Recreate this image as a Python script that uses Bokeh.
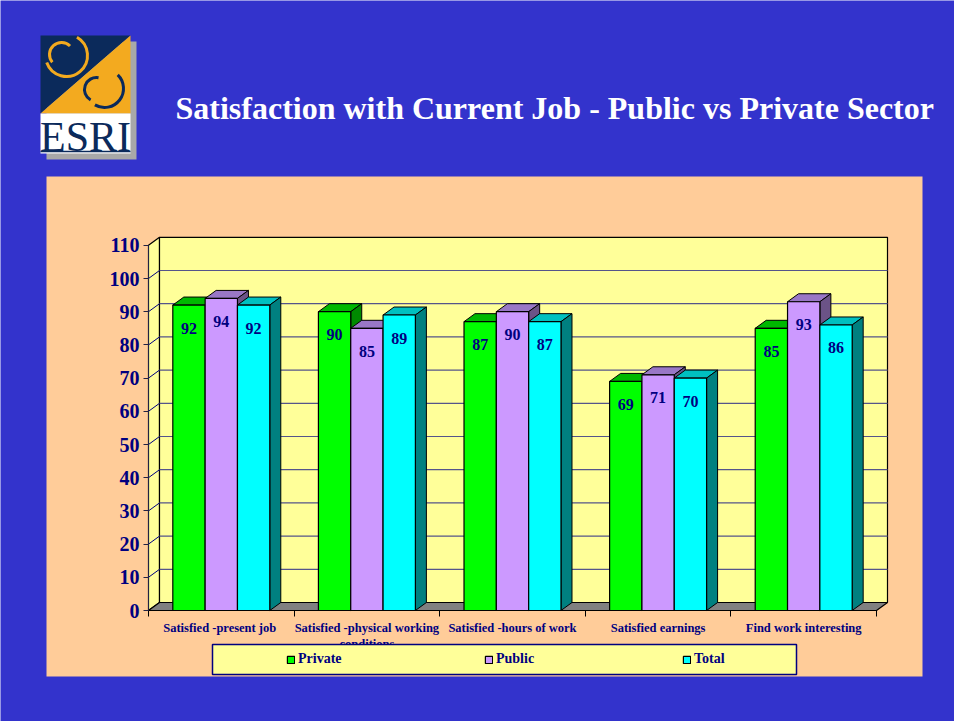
from bokeh.plotting import figure
from bokeh.models import Range1d, LinearAxis, FixedTicker, Legend, LegendItem, ColumnDataSource
from bokeh.core.properties import value
from bokeh.embed import file_html
from bokeh.resources import INLINE

# ---------------- data ----------------
categories = [
    "Satisfied  -present job",
    "Satisfied -physical working\nconditions",
    "Satisfied -hours of work",
    "Satisfied earnings",
    "Find work interesting",
]
series_names = ["Private", "Public", "Total"]
private = [92, 90, 87, 69, 85]
public = [94, 85, 90, 71, 93]
total = [92, 89, 87, 70, 86]
y_ticks = [0, 10, 20, 30, 40, 50, 60, 70, 80, 90, 100, 110]
title_text = "Satisfaction with Current Job  - Public vs Private Sector"
logo_text = "ESRI"

# ---------------- styles / geometry ----------------
W, H = 954, 721
X0_PX, Y0_PX = 148.0, 610.0          # canvas position of the chart origin
PX_PER_CAT, PX_PER_VAL = 145.6, 3.32
DEPTH_X_PX, DEPTH_Y_PX = 11.0, 8.0
BAR_W = 0.222

BLUE = "#3333CC"
PEACH = "#FFCC99"
WALL = "#FFFF99"
FLOOR = "#808080"
NAVY = "#000080"
GRID = "#55558A"
LOGO_NAVY = "#0B2A5B"
LOGO_GOLD = "#F3AA1F"
front_colors = ["#00FF00", "#CC99FF", "#00FFFF"]
top_colors = ["#00B800", "#9977C6", "#00C0C0"]
side_colors = ["#008A00", "#6B5387", "#008080"]
SERIF = value("Liberation Serif")

DX = DEPTH_X_PX / PX_PER_CAT
DY = DEPTH_Y_PX / PX_PER_VAL
NCAT = len(categories)
YMAX = y_ticks[-1]

p = figure(
    width=W, height=H,
    x_range=Range1d(-X0_PX / PX_PER_CAT, (W - X0_PX) / PX_PER_CAT),
    y_range=Range1d(-(H - Y0_PX) / PX_PER_VAL, Y0_PX / PX_PER_VAL),
    output_backend="svg", toolbar_location=None,
    x_axis_location=None, y_axis_location=None,
    min_border=0, title=None,
)
p.background_fill_color = BLUE
p.border_fill_color = BLUE
p.outline_line_color = None
p.xgrid.visible = False
p.ygrid.visible = False
p.extra_x_ranges = {"px": Range1d(0, W)}
p.extra_y_ranges = {"px": Range1d(H, 0)}
PX = dict(x_range_name="px", y_range_name="px")

# ---------------- decoration: panel, logo, title ----------------
p.quad(left=46, right=922, top=176, bottom=676, fill_color=PEACH, line_color=None, **PX)

p.quad(left=46, right=136, top=41, bottom=159, fill_color="#A8A8A8", line_color=None, **PX)
p.patch([40, 130, 40], [35, 35, 113], fill_color=LOGO_NAVY, line_color=None, **PX)
p.patch([130, 130, 40], [35, 113, 113], fill_color=LOGO_GOLD, line_color=None, **PX)
p.quad(left=40, right=130, top=113, bottom=153, fill_color="white", line_color=None, **PX)
p.line([40, 130], [151, 151], line_color=LOGO_NAVY, line_width=1.5, **PX)
p.arc(x=[61, 66], y=[54, 55], radius=[12, 21], start_angle=[0.78, -2.8], end_angle=[3.84, 1.05],
      line_color=LOGO_GOLD, line_width=3, **PX)
p.arc(x=[96, 104], y=[89, 88], radius=[12, 19], start_angle=[1.4, -2.1], end_angle=[4.2, 0.8],
      line_color=LOGO_NAVY, line_width=3, **PX)
p.text(x=[85], y=[136], text=[logo_text], text_font=SERIF, text_font_size="42px",
       text_color=LOGO_NAVY, text_align="center", text_baseline="alphabetic", **PX)

p.text(x=[175], y=[107], text=[title_text], text_font=SERIF, text_font_style="bold",
       text_font_size="32px", text_color="white", text_align="left",
       text_baseline="alphabetic", **PX)

# ---------------- 3D chart walls ----------------
p.patch([0, DX, DX, 0], [0, DY, YMAX + DY, YMAX], fill_color=WALL, line_color="black", line_width=1.2)
p.quad(left=DX, right=NCAT + DX, bottom=DY, top=YMAX + DY, fill_color=WALL, line_color="black", line_width=1.2)
grid_vals = y_ticks[1:-1]
p.segment(x0=[DX] * len(grid_vals), y0=[v + DY for v in grid_vals],
          x1=[NCAT + DX] * len(grid_vals), y1=[v + DY for v in grid_vals],
          line_color=GRID, line_width=1.2)
p.segment(x0=[0] * len(grid_vals), y0=grid_vals, x1=[DX] * len(grid_vals),
          y1=[v + DY for v in grid_vals], line_color=NAVY, line_width=1)
p.patch([0, NCAT, NCAT + DX, DX], [0, 0, DY, DY], fill_color=FLOOR, line_color="black", line_width=1.2)

# ---------------- bars ----------------
front_renderers = []
label_x, label_y, label_t = [], [], []
for k, vals in enumerate([private, public, total]):
    cx = [i + 0.5 + (k - 1) * BAR_W for i in range(NCAT)]
    lft = [c - BAR_W / 2 for c in cx]
    rgt = [c + BAR_W / 2 for c in cx]
    top_xs = [[l, r, r + DX, l + DX] for l, r in zip(lft, rgt)]
    top_ys = [[v, v, v + DY, v + DY] for v in vals]
    side_xs = [[r, r + DX, r + DX, r] for r in rgt]
    side_ys = [[0, DY, v + DY, v] for v in vals]
    p.patches(top_xs, top_ys, fill_color=top_colors[k], line_color="black", line_width=1)
    p.patches(side_xs, side_ys, fill_color=side_colors[k], line_color="black", line_width=1)
    src = ColumnDataSource(dict(left=lft, right=rgt, top=vals, bottom=[0] * NCAT))
    fr = p.quad(left="left", right="right", top="top", bottom="bottom", source=src,
                fill_color=front_colors[k], line_color="black", line_width=1.2)
    front_renderers.append(fr)
    label_x += cx
    label_y += vals
    label_t += [str(v) for v in vals]

p.text(x=label_x, y=label_y, text=label_t, y_offset=23, text_font=SERIF, text_font_style="bold",
       text_font_size="16px", text_color=NAVY, text_align="center", text_baseline="middle")

# ---------------- axes ----------------
yaxis = LinearAxis(fixed_location=0, ticker=FixedTicker(ticks=y_ticks), bounds=(0, YMAX))
yaxis.axis_line_color = "#222244"
yaxis.major_tick_line_color = "#222244"
yaxis.major_tick_out = 5
yaxis.major_tick_in = 0
yaxis.minor_tick_line_color = None
yaxis.major_label_standoff = 4
yaxis.major_label_text_font = "Liberation Serif"
yaxis.major_label_text_font_style = "bold"
yaxis.major_label_text_font_size = "20px"
yaxis.major_label_text_color = NAVY
p.add_layout(yaxis, "left")

bound_ticks = list(range(NCAT + 1))
xaxis = LinearAxis(fixed_location=0, ticker=FixedTicker(ticks=bound_ticks), bounds=(0, NCAT))
xaxis.major_label_overrides = {t: "" for t in bound_ticks}
xaxis.axis_line_color = "black"
xaxis.major_tick_line_color = "black"
xaxis.major_tick_out = 6
xaxis.major_tick_in = 0
xaxis.minor_tick_line_color = None
p.add_layout(xaxis, "below")

cataxis = LinearAxis(fixed_location=0, ticker=FixedTicker(ticks=[i + 0.5 for i in range(NCAT)]))
cataxis.major_label_overrides = {i + 0.5: c for i, c in enumerate(categories)}
cataxis.axis_line_color = None
cataxis.major_tick_line_color = None
cataxis.major_tick_out = 0
cataxis.major_tick_in = 0
cataxis.minor_tick_line_color = None
cataxis.major_label_standoff = 10
cataxis.major_label_text_font = "Liberation Serif"
cataxis.major_label_text_font_style = "bold"
cataxis.major_label_text_font_size = "12.5px"
cataxis.major_label_text_color = NAVY
p.add_layout(cataxis, "below")

# ---------------- legend ----------------
p.quad(left=212, right=796, top=644, bottom=674, fill_color=WALL, line_color=NAVY,
       line_width=1.5, level="annotation", **PX)
legend = Legend(
    items=[LegendItem(label=n, renderers=[r]) for n, r in zip(series_names, front_renderers)],
    location=(286, 54), orientation="horizontal",
    background_fill_alpha=0, border_line_color=None, padding=0, spacing=36,
    glyph_width=9, glyph_height=9, label_width=150, label_standoff=3,
    label_text_font="Liberation Serif", label_text_font_style="bold",
    label_text_font_size="14px", label_text_color=NAVY,
)
legend.level = "overlay"
p.add_layout(legend)

open("out.html", "w").write(file_html(p, INLINE))
